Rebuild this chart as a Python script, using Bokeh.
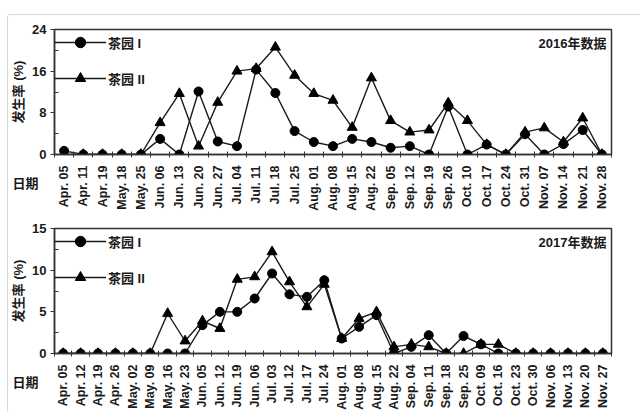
from math import pi
from bokeh.plotting import figure
from bokeh.models import (Range1d, LinearAxis, FixedTicker, Legend, LegendItem, Label, Title)
from bokeh.layouts import column
from bokeh.embed import file_html
from bokeh.resources import INLINE

# ---------------- data ----------------
dates_2016 = ["Apr. 05", "Apr. 11", "Apr. 19", "May. 18", "May. 25", "Jun. 06", "Jun. 13",
              "Jun. 20", "Jun. 27", "Jul. 04", "Jul. 11", "Jul. 18", "Jul. 25", "Aug. 01",
              "Aug. 08", "Aug. 15", "Aug. 22", "Sep. 05", "Sep. 12", "Sep. 19", "Sep. 26",
              "Oct. 10", "Oct. 17", "Oct. 24", "Oct. 31", "Nov. 07", "Nov. 14", "Nov. 21",
              "Nov. 28"]
garden1_2016 = [0.7, 0, 0, 0, 0, 3.0, 0, 12.1, 2.5, 1.6, 16.3, 11.8, 4.5, 2.4, 1.6, 3.0,
                2.4, 1.3, 1.6, 0, 9.2, 0, 1.9, 0, 3.9, 0, 2.0, 4.7, 0]
garden2_2016 = [0, 0, 0, 0, 0, 6.1, 11.7, 1.6, 10.0, 16.0, 16.5, 20.6, 15.2, 11.7, 10.4, 5.2,
                14.7, 6.5, 4.3, 4.7, 9.9, 6.5, 1.9, 0, 4.3, 5.1, 2.4, 7.0, 0]

dates_2017 = ["Apr. 05", "Apr. 12", "Apr. 19", "Apr. 26", "May. 02", "May. 09", "May. 16",
              "May. 23", "Jun. 05", "Jun. 12", "Jun. 19", "Jun. 06", "Jul. 03", "Jul. 12",
              "Jul. 17", "Jul. 24", "Aug. 01", "Aug. 08", "Aug. 15", "Aug. 22", "Sep. 04",
              "Sep. 11", "Sep. 18", "Sep. 25", "Oct. 09", "Oct. 16", "Oct. 23", "Oct. 30",
              "Nov. 06", "Nov. 13", "Nov. 20", "Nov. 27"]
garden1_2017 = [0, 0, 0, 0, 0, 0, 0, 0, 3.4, 5.0, 5.0, 6.6, 9.6, 7.1, 6.8, 8.8, 1.8, 3.2,
                4.6, 0, 0.8, 2.2, 0, 2.1, 1.1, 0, 0, 0, 0, 0, 0, 0]
garden2_2017 = [0, 0, 0, 0, 0, 0, 4.8, 1.5, 3.9, 3.0, 8.9, 9.2, 12.2, 8.6, 5.6, 8.3, 1.8,
                4.2, 5.0, 0.8, 1.1, 0.8, 0, 0, 1.1, 1.1, 0, 0, 0, 0, 0, 0]

yticks_2016 = [0, 8, 16, 24]
yminor_2016 = [4, 12, 20]
yticks_2017 = [0, 5, 10, 15]
yminor_2017 = [2.5, 7.5, 12.5]

series_labels = ["茶园 I", "茶园 II"]
titles = ["2016年数据", "2017年数据"]
y_label = "发生率 (%)"
x_label = "日期"

FONT = "Liberation Sans, Noto Sans CJK SC"
INK = "#1a1a1a"
FW, FH = 557, 125


def make_chart(cats, g1, g2, yticks, yminor, title, bottom_border):
    n = len(cats)
    centers = [i + 0.5 for i in range(n)]   # centre of each date band
    p = figure(x_range=Range1d(0, n), y_range=Range1d(yticks[0], yticks[-1]),
               frame_width=FW, frame_height=FH,
               min_border_left=40, min_border_right=32, min_border_top=14,
               min_border_bottom=bottom_border,
               x_axis_location=None, output_backend="svg", toolbar_location=None)
    p.grid.visible = False
    p.outline_line_color = "#333333"
    p.outline_line_width = 1.5
    p.background_fill_color = "white"
    p.border_fill_color = "white"

    # y axis
    ya = p.yaxis[0]
    ya.ticker = FixedTicker(ticks=yticks, minor_ticks=yminor)
    ya.major_tick_in = 0
    ya.major_tick_out = 4
    ya.minor_tick_in = 4
    ya.minor_tick_out = 0
    ya.axis_line_color = "#333333"
    ya.axis_line_width = 1.5
    ya.major_tick_line_color = "#333333"
    ya.minor_tick_line_color = "#333333"
    ya.major_label_text_font = FONT
    ya.major_label_text_font_style = "bold"
    ya.major_label_text_font_size = "13px"
    ya.major_label_text_color = INK
    ya.major_label_standoff = 4
    ya.axis_label = y_label
    ya.axis_label_text_font = FONT
    ya.axis_label_text_font_style = "bold"
    ya.axis_label_text_font_size = "13px"
    ya.axis_label_text_color = INK
    ya.axis_label_standoff = 3

    # date labels at band centres, small ticks at band edges
    xa = LinearAxis(ticker=FixedTicker(ticks=centers, minor_ticks=list(range(n + 1))),
                    major_label_overrides={c: lab for c, lab in zip(centers, cats)},
                    major_tick_line_color=None, major_tick_out=0, major_tick_in=0,
                    minor_tick_line_color="#333333", minor_tick_in=3, minor_tick_out=3,
                    axis_line_color="#333333", axis_line_width=1.5,
                    major_label_orientation=pi / 2,
                    major_label_standoff=8, major_label_text_font=FONT,
                    major_label_text_font_style="bold",
                    major_label_text_font_size="12.5px", major_label_text_color=INK)
    p.add_layout(xa, "below")
    # "日期" to the left of the date labels
    p.add_layout(Title(text=x_label, align="left", offset=-42, standoff=-76,
                       vertical_align="top", text_font=FONT, text_font_style="bold",
                       text_font_size="13px", text_color=INK), "below")

    l1 = p.line(centers, g1, line_color=INK, line_width=1.4)
    s1 = p.scatter(centers, g1, marker="circle", size=9, color="black")
    l2 = p.line(centers, g2, line_color=INK, line_width=1.4)
    s2 = p.scatter(centers, g2, marker="triangle", size=10, color="black")

    legend = Legend(items=[LegendItem(label=series_labels[0], renderers=[l1, s1]),
                           LegendItem(label=series_labels[1], renderers=[l2, s2])],
                    location="top_left", glyph_width=52, glyph_height=26, spacing=10,
                    padding=7, margin=0, label_standoff=2, background_fill_alpha=0,
                    border_line_color=None, label_text_font=FONT,
                    label_text_font_style="bold", label_text_font_size="13px",
                    label_text_color=INK)
    p.add_layout(legend)

    p.add_layout(Label(x=FW - 5, y=FH - 14, x_units="screen", y_units="screen", text=title,
                       text_align="right", text_baseline="middle", text_font=FONT,
                       text_font_style="bold", text_font_size="13px", text_color=INK))
    return p


p1 = make_chart(dates_2016, garden1_2016, garden2_2016, yticks_2016, yminor_2016, titles[0], 60)
p2 = make_chart(dates_2017, garden1_2017, garden2_2017, yticks_2017, yminor_2017, titles[1], 56)

layout = column(p1, p2, spacing=0, margin=(14, 0, 0, 7),
                styles={"border": "1px solid #d8d8d8", "border-radius": "3px"})

open("out.html", "w").write(file_html(layout, INLINE))
